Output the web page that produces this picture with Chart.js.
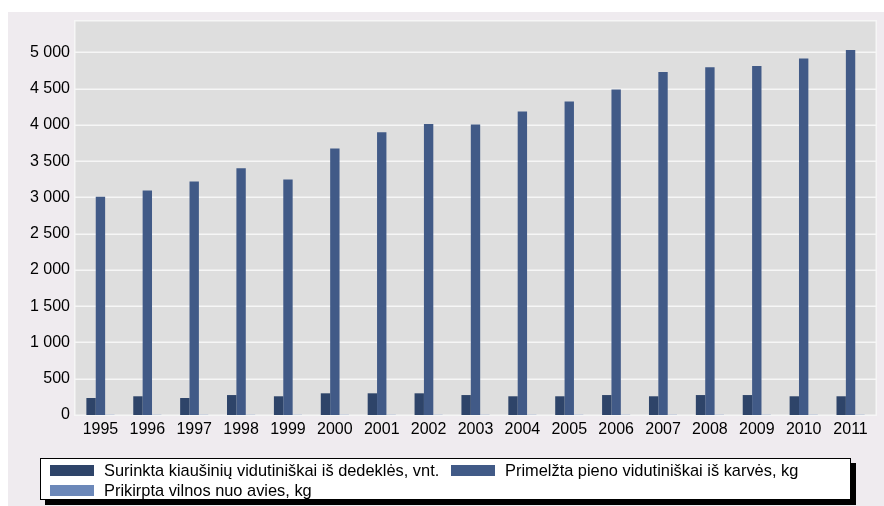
<!DOCTYPE html>
<html>
<head>
<meta charset="utf-8">
<script src="https://cdn.jsdelivr.net/npm/chart.js@4/dist/chart.umd.min.js"></script>
<style>
  html, body { margin:0; padding:0; background:#fff; }
  #wrap { position:relative; width:884px; height:506px; overflow:hidden; }
  canvas { position:absolute; left:0; top:0; }
  #legend {
    position:absolute; left:40px; top:458px; width:809px; height:40px;
    background:#fff; border:1px solid #000; box-shadow:5px 5px 0 #000;
    box-sizing:content-box;
    font-family:"Liberation Sans", Arial, sans-serif; font-size:16.4px; color:#000;
  }
  #legend .item { position:absolute; display:flex; align-items:center; height:12px; white-space:nowrap; }
  #legend .sw { width:44px; height:11px; margin-right:10px; flex:none; }
</style>
</head>
<body>
<div id="wrap">
  <canvas id="c" width="884" height="506"></canvas>
  <div id="legend"></div>
</div>
<script>
const years = ['1995','1996','1997','1998','1999','2000','2001','2002','2003','2004','2005','2006','2007','2008','2009','2010','2011'];
const eggs = [234, 258, 234, 275, 258, 299, 299, 299, 275, 258, 258, 275, 258, 275, 275, 258, 258];
const milk = [3008, 3096, 3219, 3402, 3247, 3672, 3898, 4010, 4005, 4183, 4320, 4486, 4728, 4792, 4810, 4916, 5030];
const wool = [3.2, 3.1, 3.0, 3.0, 2.9, 2.9, 3.0, 3.0, 3.1, 3.1, 3.2, 3.2, 3.3, 3.3, 3.4, 3.4, 3.5];
const yTicks = [0, 500, 1000, 1500, 2000, 2500, 3000, 3500, 4000, 4500, 5000];
const seriesNames = [
  'Surinkta kiaušinių vidutiniškai iš dedeklės, vnt.',
  'Primelžta pieno vidutiniškai iš karvės, kg',
  'Prikirpta vilnos nuo avies, kg'
];
const seriesColors = ['#2E4469', '#415A87', '#6C88B9'];

const fmt = v => String(v).replace(/\B(?=(\d{3})+(?!\d))/g, ' ');

const bgPlugin = {
  id: 'bg',
  beforeDraw(chart) {
    const c = chart.ctx;
    c.save();
    c.fillStyle = '#ffffff';
    c.fillRect(0, 0, chart.width, chart.height);
    c.fillStyle = '#EFEBEF';
    c.fillRect(8, 12, chart.width - 8, chart.height - 12);
    c.restore();
  },
  beforeDatasetsDraw(chart) {
    const c = chart.ctx;
    const a = chart.chartArea;
    const L = a.left - 3, R = a.right + 3, T = a.top, B = a.bottom + 1;
    c.save();
    c.fillStyle = '#DEDEDE';
    c.fillRect(L, T, R - L, B - T);
    const ys = chart.scales.y;
    c.strokeStyle = '#F6F6F6';
    c.lineWidth = 1.5;
    ys.ticks.forEach(t => {
      if (t.value === 0) return;
      const y = Math.round(ys.getPixelForValue(t.value)) + 0.25;
      c.beginPath(); c.moveTo(L, y); c.lineTo(R, y); c.stroke();
    });
    c.strokeRect(L + 0.75, T + 0.75, R - L - 1.5, B - T - 1.5);
    c.restore();
  }
};

const chart = new Chart(document.getElementById('c'), {
  type: 'bar',
  data: {
    labels: years,
    datasets: [
      { label: seriesNames[0], data: eggs, backgroundColor: seriesColors[0] },
      { label: seriesNames[1], data: milk, backgroundColor: seriesColors[1] },
      { label: seriesNames[2], data: wool, backgroundColor: seriesColors[2] }
    ]
  },
  options: {
    responsive: false,
    animation: false,
    layout: { padding: { left: 0, top: 20, right: 10, bottom: 0 } },
    plugins: { legend: { display: false }, tooltip: { enabled: false } },
    datasets: { bar: { categoryPercentage: 0.6, barPercentage: 1.0 } },
    scales: {
      x: {
        grid: { display: false, drawTicks: false },
        border: { display: false },
        ticks: { color: '#000', font: { family: 'Liberation Sans', size: 16 }, padding: 5, maxRotation: 0, autoSkip: false },
        afterFit: s => { s.height = 91; }
      },
      y: {
        min: 0, max: 5445,
        grid: { display: false, drawTicks: false },
        border: { display: false },
        ticks: { color: '#000', font: { family: 'Liberation Sans', size: 16 }, padding: 7, autoSkip: false, callback: v => fmt(v) },
        afterBuildTicks: s => { s.ticks = yTicks.map(v => ({ value: v })); },
        afterFit: s => { s.width = 77; }
      }
    }
  },
  plugins: [bgPlugin]
});

// HTML legend built from the chart's datasets
const leg = document.getElementById('legend');
const pos = [[9, 5], [410, 5], [9, 25]];
chart.data.datasets.forEach((ds, i) => {
  const it = document.createElement('div');
  it.className = 'item';
  it.style.left = pos[i][0] + 'px';
  it.style.top = pos[i][1] + 'px';
  const sw = document.createElement('span');
  sw.className = 'sw';
  sw.style.background = ds.backgroundColor;
  const tx = document.createElement('span');
  tx.textContent = ds.label;
  it.appendChild(sw); it.appendChild(tx);
  leg.appendChild(it);
});
</script>
</body>
</html>
